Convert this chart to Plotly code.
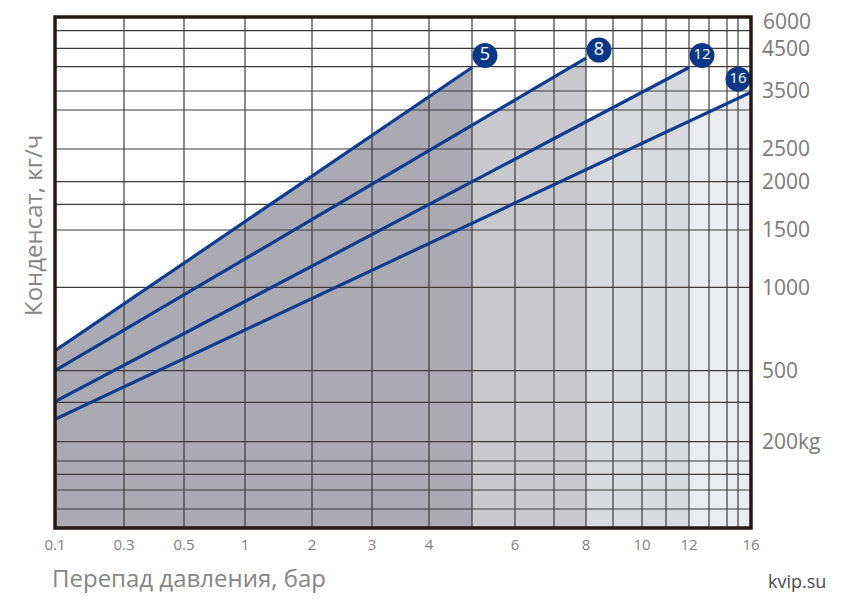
import numpy as np
import plotly.graph_objects as go

# ---------------- data ----------------
series_names = ["5", "8", "12", "16"]
p_start = [0.1, 0.1, 0.1, 0.1]          # bar
p_end = [5, 8, 12, 16]                  # bar
q_start = [620, 500, 370, 295]          # kg/h
q_end = [4050, 4270, 4050, 3480]        # kg/h

x_tick_values = [0.1, 0.3, 0.5, 1, 2, 3, 4, 6, 8, 10, 12, 16]
x_tick_labels = ["0.1", "0.3", "0.5", "1", "2", "3", "4", "6", "8", "10", "12", "16"]
y_tick_values = [6000, 4500, 3500, 2500, 2000, 1500, 1000, 500, 200]
y_tick_labels = ["6000", "4500", "3500", "2500", "2000", "1500", "1000", "500", "200kg"]

# ------------- axis scale definitions (non-uniform chart scales) -------------
X_SCALE_VALUES = [0.1, 0.3, 0.5, 1, 2, 3, 4, 5, 6, 7, 8, 9, 10, 11, 12, 13, 14, 15, 16]
X_SCALE_POS = [0, 69, 129, 190, 257, 317, 374, 417, 460, 499, 531, 558, 587, 611, 634, 654, 672, 683, 696]
Y_SCALE_VALUES = [200, 500, 1000, 1500, 2000, 2500, 3500, 4500, 6000]
Y_SCALE_POS = [86.3, 157.3, 240.7, 298, 346.3, 379, 437, 479.7, 511]
Y_EXTRA_GRID = [497.3, 461.3, 418, 323.7, 125.7, 67, 53.7, 38, 19]
X_MAX, Y_MAX = 696, 511


def sx(v):
    return float(np.interp(v, X_SCALE_VALUES, X_SCALE_POS))


def sy(v):
    return float(np.interp(v, Y_SCALE_VALUES, Y_SCALE_POS))


# ------------- styles -------------
fill_colors = ["#abaab2", "#c9c9cd", "#d9dadd", "#ebecef"]
line_color = "#0d3d90"
badge_color = "#0a3887"
grid_color = "#3f3b3b"
badge_offsets = [(13, 12), (13, 8), (13, 12), (-13, 13)]
FONT = "Open Sans"
PAGE_OFFSET = 8  # default body margin of the html page
YTICK_FONT = dict(size=21, color="#7a7a7a", family=FONT)

fig = go.Figure()

# shaded regions
prev_end = X_SCALE_VALUES[0]
for i in range(len(series_names)):
    x0s, x1s = sx(p_start[i]), sx(p_end[i])
    y0s, y1s = sy(q_start[i]), sy(q_end[i])
    xa = sx(prev_end)
    ya = y0s + (y1s - y0s) * (xa - x0s) / (x1s - x0s)
    fig.add_trace(go.Scatter(
        x=[xa, x1s, x1s, xa, xa], y=[ya, y1s, 0, 0, ya],
        mode="lines", fill="toself", fillcolor=fill_colors[i],
        line=dict(width=0), hoverinfo="skip", showlegend=False))
    prev_end = p_end[i]

# grid lines
gx, gy = [], []
for v in X_SCALE_VALUES:
    gx += [sx(v), sx(v), None]
    gy += [0, Y_MAX, None]
for p in list(Y_SCALE_POS) + Y_EXTRA_GRID:
    gx += [0, X_MAX, None]
    gy += [p, p, None]
fig.add_trace(go.Scatter(x=gx, y=gy, mode="lines",
                         line=dict(color=grid_color, width=1.2),
                         hoverinfo="skip", showlegend=False))

# condensate lines
for i, name in enumerate(series_names):
    fig.add_trace(go.Scatter(
        x=[sx(p_start[i]), sx(p_end[i])], y=[sy(q_start[i]), sy(q_end[i])],
        mode="lines", line=dict(color=line_color, width=3.2),
        name=name, showlegend=False))

# badges
for i, name in enumerate(series_names):
    dx, dy = badge_offsets[i]
    fig.add_trace(go.Scatter(
        x=[sx(p_end[i]) + dx], y=[sy(q_end[i]) + dy],
        mode="markers+text", text=[name], textposition="middle center",
        textfont=dict(color="white", size=18 if len(name) == 1 else 15, family=FONT),
        marker=dict(size=25, color=badge_color, line=dict(width=0)),
        hoverinfo="skip", showlegend=False, cliponaxis=False))

# frame
fig.add_shape(type="rect", xref="paper", yref="paper", x0=0, y0=0, x1=1, y1=1,
              line=dict(color="#231815", width=3.5), layer="above")

# tick labels at the very top edge are drawn as annotations so they are not dropped
top_ticks = [(v, t) for v, t in zip(y_tick_values, y_tick_labels) if sy(v) >= Y_MAX - 1]
axis_ticks = [(v, t) for v, t in zip(y_tick_values, y_tick_labels) if sy(v) < Y_MAX - 1]

annotations = [
    dict(text="Конденсат, кг/ч", xref="paper", yref="paper",
         x=(32 - 55) / 696, y=(528 - 226) / 511, textangle=-90,
         showarrow=False, font=dict(size=24, color="#858585", family=FONT),
         xanchor="center", yanchor="middle"),
    dict(text="Перепад давления, бар", xref="paper", yref="paper",
         x=-5 / 696, y=-(578 - 528) / 511, showarrow=False,
         font=dict(size=24, color="#858585", family=FONT),
         xanchor="left", yanchor="middle"),
    dict(text="kvip.su", xref="paper", yref="paper",
         x=(828 - 55) / 696, y=-(581 - 528) / 511, showarrow=False,
         font=dict(size=18, color="#4a4a4a", family=FONT),
         xanchor="right", yanchor="middle"),
]
for v, t in top_ticks:
    annotations.append(dict(text=t, xref="paper", yref="y", x=1, y=sy(v),
                            xshift=10, yshift=-4, height=20, valign="middle",
                            showarrow=False, font=YTICK_FONT,
                            xanchor="left", yanchor="middle"))

fig.update_layout(
    width=846 - PAGE_OFFSET, height=605 - PAGE_OFFSET,
    margin=dict(l=55 - PAGE_OFFSET, r=95, t=17 - PAGE_OFFSET, b=77),
    paper_bgcolor="white", plot_bgcolor="white",
    font=dict(family=FONT, color="#7a7a7a"),
    xaxis=dict(range=[0, X_MAX], showgrid=False, zeroline=False, automargin=False,
               tickmode="array", tickvals=[sx(v) for v in x_tick_values],
               ticktext=x_tick_labels, tickfont=dict(size=15, color="#808080"),
               ticks="", ticklabelstandoff=6),
    yaxis=dict(range=[0, Y_MAX], showgrid=False, zeroline=False, side="right",
               automargin=False,
               tickmode="array", tickvals=[sy(v) for v, _ in axis_ticks],
               ticktext=[t for _, t in axis_ticks], tickfont=YTICK_FONT,
               ticks="", ticklabelstandoff=10),
    annotations=annotations,
)

fig.write_html("out.html")
